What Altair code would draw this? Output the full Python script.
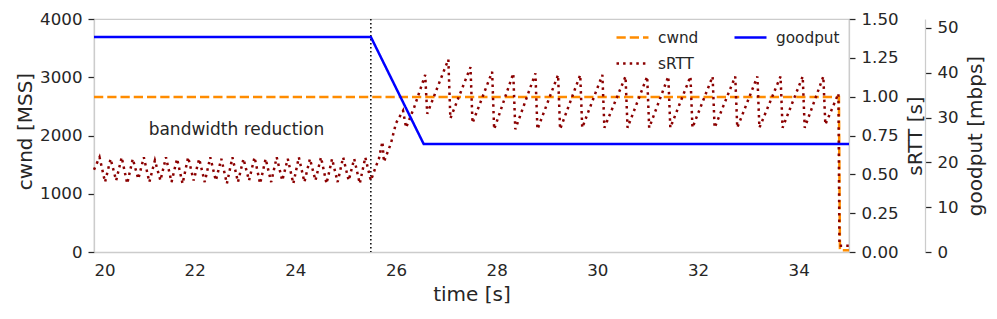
import altair as alt
import pandas as pd

# ---------------- data ----------------
series_names = ["cwnd", "sRTT", "goodput"]
series_colors = ["#ff8c00", "#8b0000", "#0000ff"]
series_dashes = [[9.25, 4], [2.5, 4.1], [1, 0]]

cwnd_t = [20.0, 34.80, 34.82, 35.0]
cwnd_v = [2660, 2660, 30, 30]

goodput_t = [20.0, 25.5, 26.55, 35.0]
goodput_v = [48.0, 48.0, 24.1, 24.1]

srtt_t = [20.00, 20.11, 20.22, 20.33, 20.44, 20.55, 20.66, 20.77, 20.88, 20.99,
          21.10, 21.21, 21.32, 21.43, 21.54, 21.65, 21.76, 21.87, 21.98, 22.09,
          22.20, 22.31, 22.42, 22.53, 22.64, 22.75, 22.86, 22.97, 23.08, 23.19,
          23.30, 23.41, 23.52, 23.63, 23.74, 23.85, 23.96, 24.07, 24.18, 24.29,
          24.40, 24.51, 24.62, 24.73, 24.84, 24.95, 25.06, 25.17, 25.28, 25.39,
          25.50, 25.60, 25.66, 25.73, 25.76, 25.90, 26.00, 26.14, 26.20, 26.36,
          26.58, 26.62, 27.04, 27.08, 27.48, 27.52, 27.91, 27.95, 28.33, 28.37,
          28.77, 28.81, 29.22, 29.26, 29.66, 29.70, 30.10, 30.14, 30.56, 30.60,
          30.99, 31.03, 31.41, 31.45, 31.85, 31.89, 32.29, 32.33, 32.74, 32.78,
          33.18, 33.22, 33.64, 33.68, 34.08, 34.12, 34.49, 34.53, 34.79, 34.81,
          35.00]
srtt_v = [0.53, 0.61, 0.45, 0.60, 0.46, 0.61, 0.44, 0.60, 0.47, 0.61,
          0.45, 0.59, 0.46, 0.61, 0.45, 0.60, 0.44, 0.61, 0.46, 0.60,
          0.45, 0.61, 0.46, 0.60, 0.44, 0.61, 0.45, 0.60, 0.46, 0.61,
          0.44, 0.60, 0.45, 0.61, 0.46, 0.60, 0.44, 0.61, 0.45, 0.60,
          0.46, 0.61, 0.44, 0.60, 0.45, 0.61, 0.46, 0.60, 0.44, 0.61,
          0.46, 0.55, 0.60, 0.71, 0.58, 0.70, 0.83, 0.91, 0.80, 0.93,
          1.14, 0.89, 1.24, 0.86, 1.19, 0.83, 1.16, 0.79, 1.15, 0.79,
          1.15, 0.79, 1.14, 0.79, 1.14, 0.80, 1.14, 0.80, 1.13, 0.80,
          1.13, 0.80, 1.13, 0.80, 1.13, 0.80, 1.13, 0.80, 1.13, 0.80,
          1.13, 0.80, 1.13, 0.80, 1.13, 0.80, 1.13, 0.82, 1.02, 0.04,
          0.04]

event_t = [25.5]
note_t = [22.83]
note_v = [2100]
note_text = ["bandwidth reduction"]

x_ticks = [20, 22, 24, 26, 28, 30, 32, 34]
cwnd_ticks = [0, 1000, 2000, 3000, 4000]
srtt_ticks = [0.0, 0.25, 0.5, 0.75, 1.0, 1.25, 1.5]
goodput_ticks = [0, 10, 20, 30, 40, 50]

# ---------------- frames ----------------
cwnd_df = pd.DataFrame({"t": cwnd_t, "v": cwnd_v, "series": "cwnd"})
goodput_df = pd.DataFrame({"t": goodput_t, "v": goodput_v, "series": "goodput"})
srtt_df = pd.DataFrame({"t": srtt_t, "v": srtt_v, "series": "sRTT"})
event_df = pd.DataFrame({"t": event_t})
note_df = pd.DataFrame({"t": note_t, "v": note_v, "label": note_text})

FONT = "DejaVu Sans"
TXT = "#262626"

legend = alt.Legend(
    title=None, orient="none", legendX=521, legendY=1, columns=2,
    symbolType="stroke", symbolSize=1024, symbolStrokeWidth=2.5,
    labelFontSize=15.3, labelFont=FONT, labelColor=TXT,
    columnPadding=30, rowPadding=-14, labelOffset=8, padding=0,
)
color_scale = alt.Scale(domain=series_names, range=series_colors)
dash_scale = alt.Scale(domain=series_names, range=series_dashes)

x_enc = alt.X("t:Q", scale=alt.Scale(domain=[20, 35], nice=False, zero=False),
              axis=alt.Axis(title="time [s]", values=x_ticks, ticks=False, tickSize=0,
                            labelPadding=10, titlePadding=6))


def series_encoding():
    return dict(
        color=alt.Color("series:N", scale=color_scale, legend=legend),
        strokeDash=alt.StrokeDash("series:N", scale=dash_scale, legend=legend),
    )


cwnd_line = alt.Chart(cwnd_df).mark_line(strokeWidth=2.5).encode(
    x=x_enc,
    y=alt.Y("v:Q", scale=alt.Scale(domain=[0, 4000], nice=False),
            axis=alt.Axis(title="cwnd [MSS]", values=cwnd_ticks, orient="left",
                          format="d", titlePadding=4, titleY=112)),
    **series_encoding(),
)
event_rule = alt.Chart(event_df).mark_rule(
    color="black", strokeWidth=1.5, strokeDash=[1.5, 2.5]
).encode(x="t:Q")
note = alt.Chart(note_df).mark_text(
    font=FONT, fontSize=17, color=TXT, align="center", baseline="middle"
).encode(x="t:Q", y="v:Q", text="label:N")

left_layer = alt.layer(cwnd_line, event_rule, note)

srtt_line = alt.Chart(srtt_df).mark_line(strokeWidth=2.5).encode(
    x="t:Q",
    y=alt.Y("v:Q", scale=alt.Scale(domain=[0, 1.5], nice=False),
            axis=alt.Axis(title="sRTT [s]", values=srtt_ticks, orient="right",
                          format=".2f", titleAngle=270, titleBaseline="top",
                          titlePadding=7)),
    **series_encoding(),
)

goodput_line = alt.Chart(goodput_df).mark_line(strokeWidth=2.5).encode(
    x="t:Q",
    y=alt.Y("v:Q", scale=alt.Scale(domain=[0, 52], nice=False),
            axis=alt.Axis(title="goodput [mbps]", values=goodput_ticks, orient="right",
                          offset=76, titleAngle=270, titleBaseline="top",
                          titlePadding=7)),
    **series_encoding(),
)

chart = alt.layer(left_layer, srtt_line, goodput_line).resolve_scale(
    y="independent"
).properties(
    width=755, height=233,
    padding={"left": 86, "top": 11, "right": 140, "bottom": 59},
    autosize=alt.AutoSizeParams(type="none"),
    background="white",
).configure_view(
    stroke="#cccccc", strokeWidth=1.25
).configure_axis(
    grid=False,
    labelFont=FONT, titleFont=FONT,
    labelFontSize=16.67, titleFontSize=20,
    labelColor=TXT, titleColor=TXT, titleFontWeight="normal",
    domainColor="#cccccc", domainWidth=1.25,
    tickColor=TXT, tickWidth=1.25, tickSize=6, labelPadding=6,
)

chart.save("out.html", embed_options={"renderer": "svg", "actions": False})
